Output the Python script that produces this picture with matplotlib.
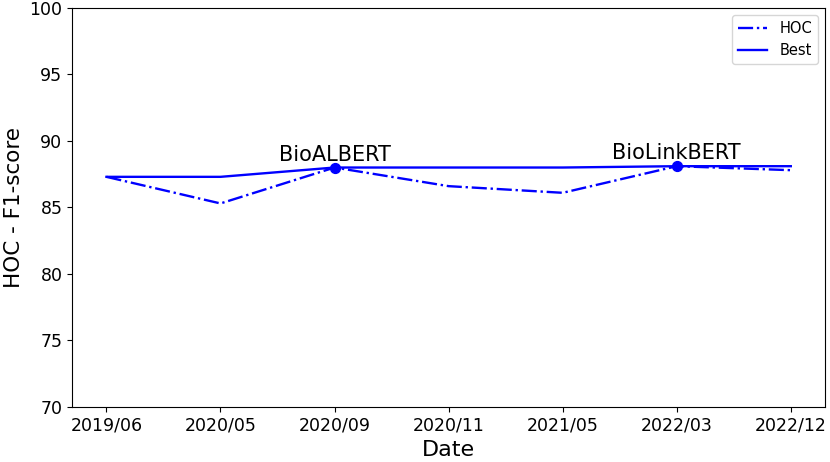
import matplotlib
matplotlib.use("Agg")
import matplotlib.pyplot as plt

dates = ["2019/06", "2020/05", "2020/09", "2020/11", "2021/05", "2022/03", "2022/12"]
hoc = [87.3, 85.3, 88.0, 86.6, 86.1, 88.1, 87.8]
best = [87.3, 87.3, 88.0, 88.0, 88.0, 88.1, 88.1]
sota_idx = [2, 5]
sota_names = ["BioALBERT", "BioLinkBERT"]

fig, ax = plt.subplots(figsize=(8.3, 4.62), dpi=100)
fig.subplots_adjust(left=0.087, right=0.994, top=0.983, bottom=0.119)

x = list(range(len(dates)))
ax.plot(x, hoc, color="blue", linestyle="-.", linewidth=1.7, label="HOC")
ax.plot(x, best, color="blue", linestyle="-", linewidth=1.7, label="Best")
ax.scatter([x[i] for i in sota_idx], [best[i] for i in sota_idx], color="blue", s=50, zorder=3)
for i, name in zip(sota_idx, sota_names):
    ax.annotate(name, (x[i], best[i]), xytext=(0, 2), textcoords="offset points",
                ha="center", va="bottom", fontsize=15)

ax.set_xticks(x)
ax.set_xticklabels(dates, fontsize=12.5)
ax.set_ylim(70, 100)
ax.tick_params(axis="y", labelsize=12.5)
ax.set_xlabel("Date", fontsize=16)
ax.set_ylabel("HOC - F1-score", fontsize=15.5)
ax.legend(loc="upper right", fontsize=10.5)

fig.savefig("out.png")
